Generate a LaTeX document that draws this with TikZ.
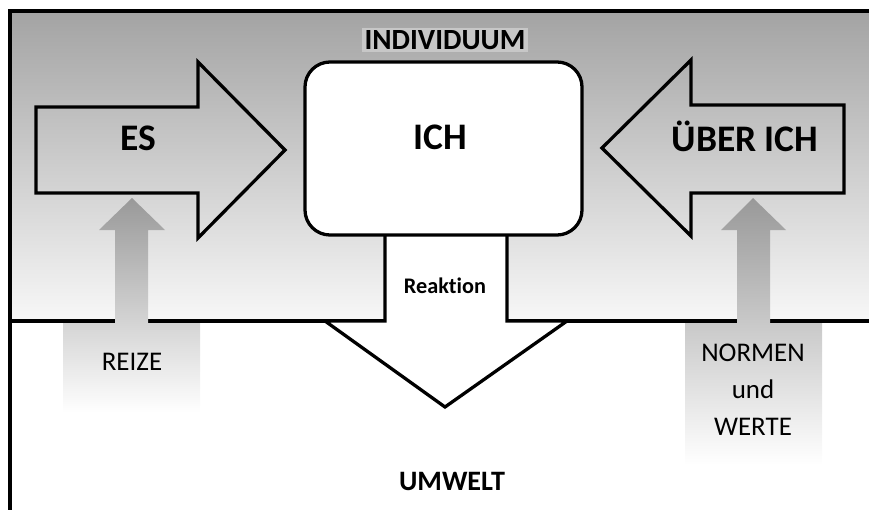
\documentclass[tikz,border=0pt]{standalone}
\usepackage{fontspec}
\setmainfont{Carlito}[Ligatures=NoCommon]
\usepackage{tikz}
\tikzset{
    bigarrow/.style={
        draw=black, % 黑色边框
        line width=2.8pt, % 边框加粗
        line join=miter
    },
    greyarrow/.style={
        draw=none,
        top color=black!40, % 上部为灰色
        bottom color=white % 下部渐变为白色
    },
    ichbox/.style={
        draw=black,
        fill=white,
        line width=2.8pt,
        rounded corners=0.75cm,
        minimum width=8.31cm,
        minimum height=5.19cm
    },
    bigtext/.style={
        inner sep=0,
        font=\bfseries\fontsize{32}{38}\selectfont
    },
    smalltext/.style={
        inner sep=0,
        align=center,
        font=\fontsize{23}{31.5}\selectfont
    }
}

\begin{document}
\begin{tikzpicture}[
                x=0.03cm, y=-0.03cm,
                frameline/.style={line width=2.8pt}
            ]
            \useasboundingbox (0,0) rectangle (869,510);
            % 背景: 个体区域
            \path[top color=black!36, bottom color=black!3] (10,11) rectangle (869,321);
            \draw[frameline] (869,11) -- (10,11) -- (10,510);
            \draw[frameline] (10,321) -- (869,321);
            % 灰色箭头
            \path[greyarrow] (63,413) -- (63,323) -- (115,323) -- (115,230) -- (99,230) -- (132,198)
                -- (165,230) -- (148,230) -- (148,323) -- (200,323) -- (200,413) -- cycle;
            \path[greyarrow] (685,465) -- (685,323) -- (737,323) -- (737,230) -- (721,230) -- (753,198)
                -- (786,230) -- (770,230) -- (770,323) -- (822,323) -- (822,465) -- cycle;
            % 大箭头
            \draw[bigarrow] (36,107) -- (198,107) -- (198,62) -- (285,150) -- (198,238) -- (198,193) -- (36,193) -- cycle;
            \draw[bigarrow] (844,105) -- (691,105) -- (691,60) -- (602,148) -- (691,236) -- (691,193) -- (844,193) -- cycle;
            \draw[bigarrow, fill=white] (385,235) -- (385,321) -- (325,321) -- (445,407) -- (567,321) -- (507,321) -- (507,235);
            \node[ichbox] (ich) at (443.5,148.5) {};
            % 文字
            \node[bigtext] (ichtext) at (440,137) {ICH};
            \node[font=\bfseries\fontsize{25}{30}\selectfont, fill=black!22, inner sep=2pt] (individuum) at (445,40) {INDIVIDUUM};
            \node[bigtext] (es) at (138,138) {ES};
            \node[bigtext] (ueberich) at (745,136) {ÜBER ICH};
            \node[inner sep=0, font=\bfseries\fontsize{19}{23}\selectfont] (reaktion) at (445,286) {Reaktion};
            \node[smalltext] (reize) at (132,362) {REIZE};
            \node[smalltext] (normen) at (753,390) {NORMEN\\und\\WERTE};
            \node[inner sep=0, font=\bfseries\fontsize{24}{29}\selectfont] (umwelt) at (452,481) {UMWELT};
\end{tikzpicture}
\end{document}
